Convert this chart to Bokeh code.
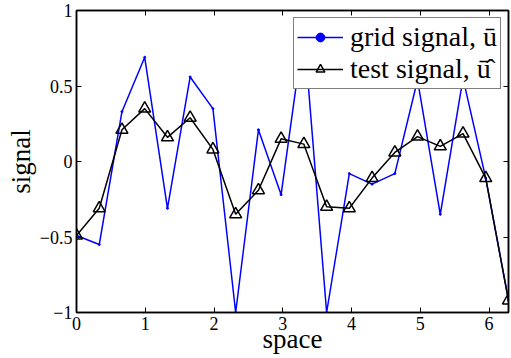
from bokeh.plotting import figure
from bokeh.models import (Range1d, LinearAxis, Legend, LegendItem,
                          CustomJSTickFormatter, FixedTicker)
from bokeh.embed import file_html
from bokeh.resources import INLINE

# ---- data ----
x_space = [0.000, 0.331, 0.661, 0.992, 1.323, 1.653, 1.984, 2.315, 2.646, 2.976,
           3.307, 3.638, 3.968, 4.299, 4.630, 4.960, 5.291, 5.622, 5.952, 6.283]
grid_signal = [-0.49, -0.55, 0.33, 0.69, -0.31, 0.56, 0.35, -1.00, 0.21, -0.22,
               0.87, -1.00, -0.08, -0.15, -0.08, 0.54, -0.35, 0.55, -0.11, -0.92]
test_signal = [-0.49, -0.31, 0.21, 0.35, 0.16, 0.29, 0.08, -0.35, -0.19, 0.15,
               0.115, -0.30, -0.31, -0.11, 0.06, 0.165, 0.10, 0.185, -0.11, -0.92]
x_ticks = [0, 1, 2, 3, 4, 5, 6]
y_ticks = [-1, -0.5, 0, 0.5, 1]
x_label = "space"
y_label = "signal"
grid_label = "grid signal, \u016b"
test_label = "test signal, u\u0304\u0302"

SERIF = "Liberation Serif"

p = figure(width=511, height=358, output_backend="svg", toolbar_location=None,
           x_range=Range1d(0, 6.2832), y_range=Range1d(-1, 1),
           min_border_left=76, min_border_right=3, min_border_top=10,
           min_border_bottom=46, background_fill_color="white",
           border_fill_color="white")
p.grid.visible = False
p.outline_line_color = "black"
p.outline_line_width = 1.5

minus_fmt = CustomJSTickFormatter(code="""
    return tick < 0 ? '\\u2212' + String(Math.abs(tick)) : String(tick);
""")
blank_fmt = CustomJSTickFormatter(code="return '';")

def style_axis(ax, ticks, show_labels=True):
    ax.ticker = FixedTicker(ticks=ticks)
    ax.major_tick_in = 5
    ax.major_tick_out = 0
    ax.minor_tick_line_color = None
    ax.axis_line_width = 1.5
    ax.axis_line_color = "black"
    ax.major_tick_line_width = 1
    ax.major_tick_line_color = "black"
    ax.major_label_text_font = SERIF
    ax.major_label_text_font_style = "normal"
    ax.major_label_text_color = "black"
    ax.major_label_text_font_size = "18px"
    if show_labels:
        ax.formatter = minus_fmt
    else:
        ax.formatter = blank_fmt
        ax.major_label_standoff = 0

style_axis(p.xaxis[0], x_ticks)
style_axis(p.yaxis[0], y_ticks)
p.xaxis[0].major_label_standoff = 4
p.yaxis[0].major_label_standoff = 4
p.xaxis[0].axis_label = x_label
p.yaxis[0].axis_label = y_label
for ax in (p.xaxis[0], p.yaxis[0]):
    ax.axis_label_text_font = SERIF
    ax.axis_label_text_font_size = "27px"
    ax.axis_label_text_font_style = "normal"
    ax.axis_label_text_color = "black"
p.xaxis[0].axis_label_standoff = -9
p.yaxis[0].axis_label_standoff = 1

top_ax = LinearAxis()
style_axis(top_ax, x_ticks, show_labels=False)
p.add_layout(top_ax, "above")
right_ax = LinearAxis()
style_axis(right_ax, y_ticks, show_labels=False)
p.add_layout(right_ax, "right")

blue_line = p.line(x_space, grid_signal, line_color="#0000ff", line_width=1.5)
blue_dots = p.scatter(x_space, grid_signal, marker="circle", size=2,
                      fill_color="#0000ff", line_color="#0000ff")
black_line = p.line(x_space, test_signal, line_color="black", line_width=1.5)
black_tri = p.scatter(x_space, test_signal, marker="triangle", size=12,
                      fill_color=None, line_color="black", line_width=1.5)

legend = Legend(items=[LegendItem(label=grid_label, renderers=[blue_line, blue_dots]),
                       LegendItem(label=test_label, renderers=[black_line, black_tri])],
                location="top_right", margin=7, padding=3, spacing=-7,
                glyph_width=46, glyph_height=22, label_standoff=7,
                label_text_font=SERIF, label_text_font_style="normal",
                label_text_font_size="28px",
                label_text_color="black", label_height=22,
                border_line_color="black", border_line_width=1.5,
                background_fill_color="white", background_fill_alpha=1.0)
p.add_layout(legend, "center")

open("out.html", "w").write(file_html(p, INLINE))
